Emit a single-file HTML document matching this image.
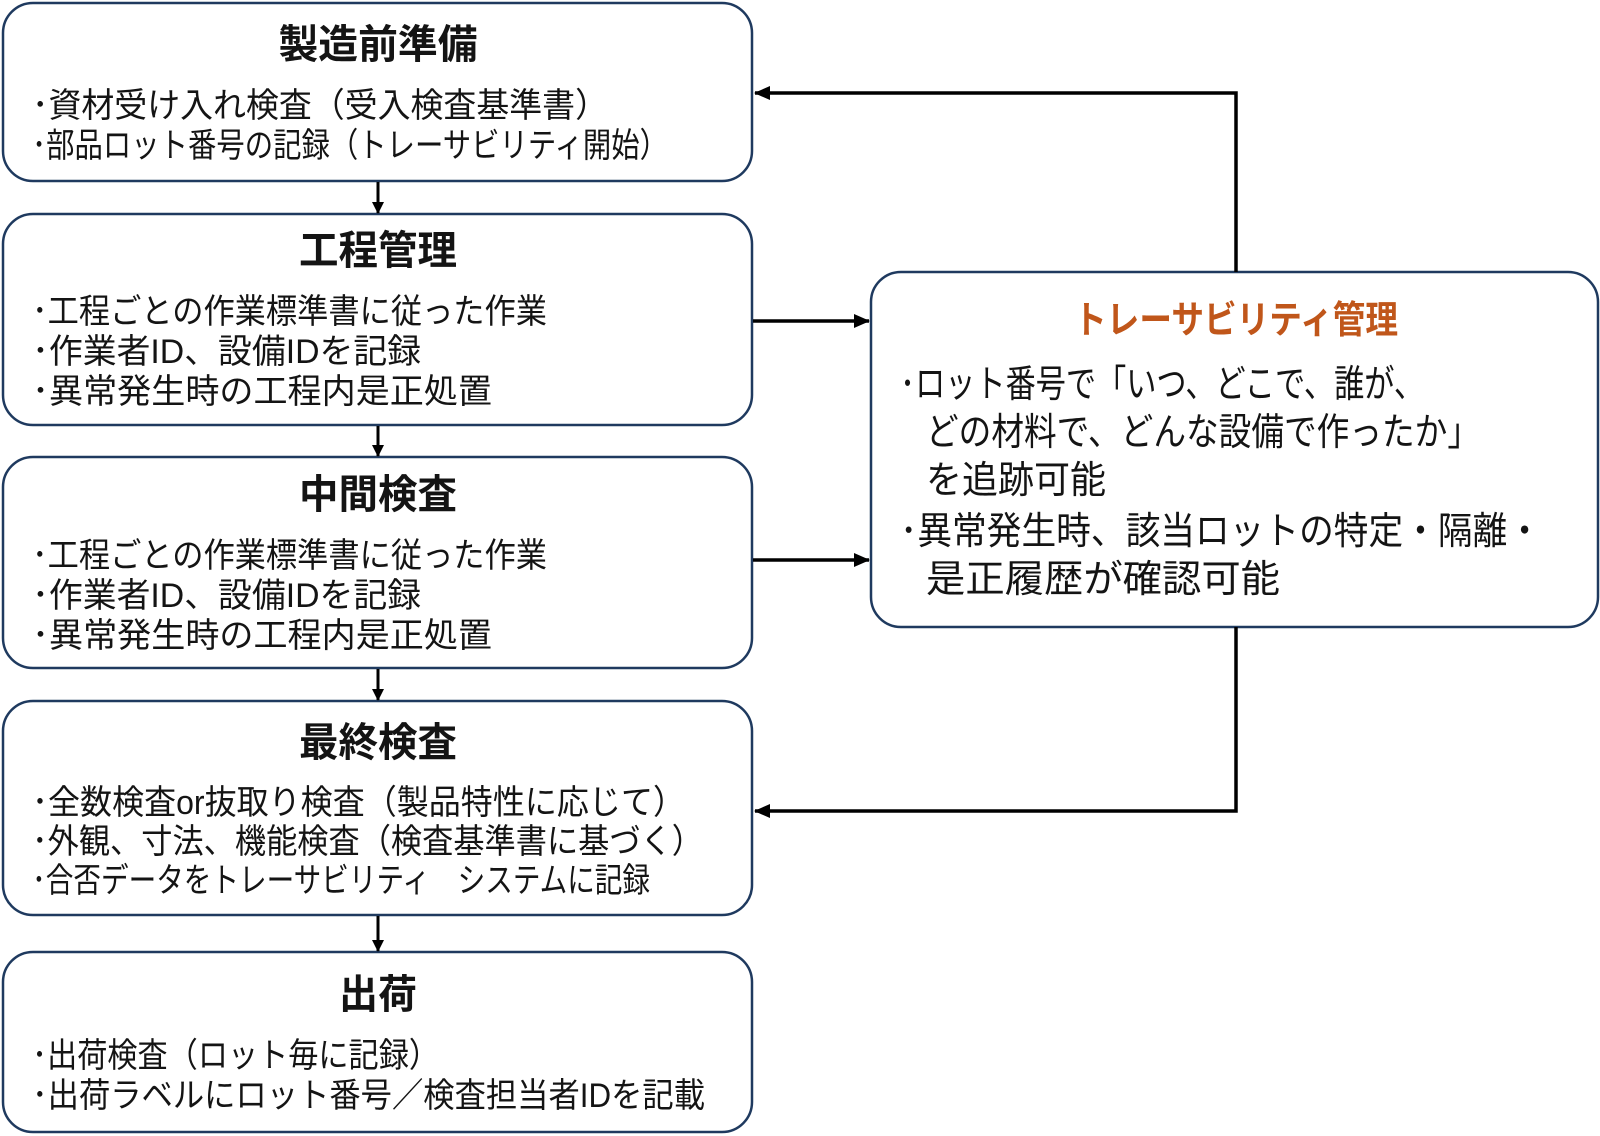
<!DOCTYPE html>
<html>
<head>
<meta charset="utf-8">
<style>
  html,body{margin:0;padding:0;background:#fff;}
  svg{display:block;}
  text{font-family:"Liberation Sans","Noto Sans CJK JP",sans-serif;fill:#141414;}
  .t{font-weight:bold;font-size:40px;}
  .b{font-size:34px;}
  .r{font-size:38px;}
</style>
</head>
<body>
<svg width="1600" height="1136" viewBox="0 0 1600 1136" xmlns="http://www.w3.org/2000/svg">
  <defs>
    <marker id="ah" markerWidth="12" markerHeight="12" refX="11" refY="6" orient="auto" markerUnits="userSpaceOnUse">
      <path d="M0,0 L12,6 L0,12 z" fill="#000"/>
    </marker>
    <marker id="ahb" markerWidth="16" markerHeight="14" refX="15" refY="7" orient="auto" markerUnits="userSpaceOnUse">
      <path d="M0,0 L16,7 L0,14 z" fill="#000"/>
    </marker>
  </defs>

  <!-- boxes -->
  <g fill="#fff" stroke="#1f3a5f" stroke-width="2.5">
    <rect x="3" y="3" width="749" height="178" rx="30" ry="30"/>
    <rect x="3" y="214" width="749" height="211" rx="30" ry="30"/>
    <rect x="3" y="457" width="749" height="211" rx="30" ry="30"/>
    <rect x="3" y="701" width="749" height="214" rx="30" ry="30"/>
    <rect x="3" y="952" width="749" height="180" rx="30" ry="30"/>
    <rect x="871" y="272" width="727" height="355" rx="30" ry="30"/>
  </g>

  <!-- vertical arrows between boxes -->
  <g stroke="#000" stroke-width="3" fill="none">
    <line x1="378" y1="182" x2="378" y2="213" marker-end="url(#ah)"/>
    <line x1="378" y1="426" x2="378" y2="456" marker-end="url(#ah)"/>
    <line x1="378" y1="669" x2="378" y2="700" marker-end="url(#ah)"/>
    <line x1="378" y1="916" x2="378" y2="951" marker-end="url(#ah)"/>
  </g>

  <!-- connectors to/from traceability box -->
  <g stroke="#000" stroke-width="3.5" fill="none">
    <line x1="753" y1="321" x2="869" y2="321" marker-end="url(#ahb)"/>
    <line x1="753" y1="560" x2="869" y2="560" marker-end="url(#ahb)"/>
    <polyline points="1236,272 1236,93 755,93" marker-end="url(#ahb)"/>
    <polyline points="1236,627 1236,811 755,811" marker-end="url(#ahb)"/>
  </g>

  <!-- Box 1 -->
  <text class="t" x="378" y="45" text-anchor="middle" dominant-baseline="central" textLength="199" lengthAdjust="spacingAndGlyphs">製造前準備</text>
  <text class="b" x="32" y="106" dominant-baseline="central" textLength="576" lengthAdjust="spacingAndGlyphs">･資材受け入れ検査（受入検査基準書）</text>
  <text class="b" x="32" y="146" dominant-baseline="central" textLength="636" lengthAdjust="spacingAndGlyphs">･部品ロット番号の記録（トレーサビリティ開始）</text>

  <!-- Box 2 -->
  <text class="t" x="378" y="251" text-anchor="middle" dominant-baseline="central" textLength="158" lengthAdjust="spacingAndGlyphs">工程管理</text>
  <text class="b" x="32" y="312" dominant-baseline="central" textLength="515" lengthAdjust="spacingAndGlyphs">･工程ごとの作業標準書に従った作業</text>
  <text class="b" x="32" y="352" dominant-baseline="central" textLength="389" lengthAdjust="spacingAndGlyphs">･作業者ID、設備IDを記録</text>
  <text class="b" x="32" y="392" dominant-baseline="central" textLength="460" lengthAdjust="spacingAndGlyphs">･異常発生時の工程内是正処置</text>

  <!-- Box 3 -->
  <text class="t" x="378" y="495" text-anchor="middle" dominant-baseline="central" textLength="158" lengthAdjust="spacingAndGlyphs">中間検査</text>
  <text class="b" x="32" y="556" dominant-baseline="central" textLength="515" lengthAdjust="spacingAndGlyphs">･工程ごとの作業標準書に従った作業</text>
  <text class="b" x="32" y="596" dominant-baseline="central" textLength="389" lengthAdjust="spacingAndGlyphs">･作業者ID、設備IDを記録</text>
  <text class="b" x="32" y="636" dominant-baseline="central" textLength="460" lengthAdjust="spacingAndGlyphs">･異常発生時の工程内是正処置</text>

  <!-- Box 4 -->
  <text class="t" x="378" y="743" text-anchor="middle" dominant-baseline="central" textLength="158" lengthAdjust="spacingAndGlyphs">最終検査</text>
  <text class="b" x="32" y="803" dominant-baseline="central" textLength="653" lengthAdjust="spacingAndGlyphs">･全数検査or抜取り検査（製品特性に応じて）</text>
  <text class="b" x="32" y="842" dominant-baseline="central" textLength="671" lengthAdjust="spacingAndGlyphs">･外観、寸法、機能検査（検査基準書に基づく）</text>
  <text class="b" x="32" y="881" dominant-baseline="central" textLength="618" lengthAdjust="spacingAndGlyphs">･合否データをトレーサビリティ　システムに記録</text>

  <!-- Box 5 -->
  <text class="t" x="378" y="995" text-anchor="middle" dominant-baseline="central" textLength="78" lengthAdjust="spacingAndGlyphs">出荷</text>
  <text class="b" x="32" y="1056" dominant-baseline="central" textLength="407" lengthAdjust="spacingAndGlyphs">･出荷検査（ロット毎に記録）</text>
  <text class="b" x="32" y="1096" dominant-baseline="central" textLength="673" lengthAdjust="spacingAndGlyphs">･出荷ラベルにロット番号／検査担当者IDを記載</text>

  <!-- Traceability box -->
  <text class="t" x="1236" y="321" text-anchor="middle" dominant-baseline="central" textLength="324" lengthAdjust="spacingAndGlyphs" style="fill:#c0561a;font-size:38px;">トレーサビリティ管理</text>
  <text class="r" x="900" y="385" dominant-baseline="central" textLength="524" lengthAdjust="spacingAndGlyphs">･ロット番号で「いつ、どこで、誰が、</text>
  <text class="r" x="926" y="433" dominant-baseline="central" textLength="554" lengthAdjust="spacingAndGlyphs">どの材料で、どんな設備で作ったか」</text>
  <text class="r" x="926" y="481" dominant-baseline="central" textLength="180" lengthAdjust="spacingAndGlyphs">を追跡可能</text>
  <text class="r" x="900" y="532" dominant-baseline="central" textLength="642" lengthAdjust="spacingAndGlyphs">･異常発生時、該当ロットの特定・隔離・</text>
  <text class="r" x="926" y="580" dominant-baseline="central" textLength="354" lengthAdjust="spacingAndGlyphs">是正履歴が確認可能</text>
</svg>
</body>
</html>
